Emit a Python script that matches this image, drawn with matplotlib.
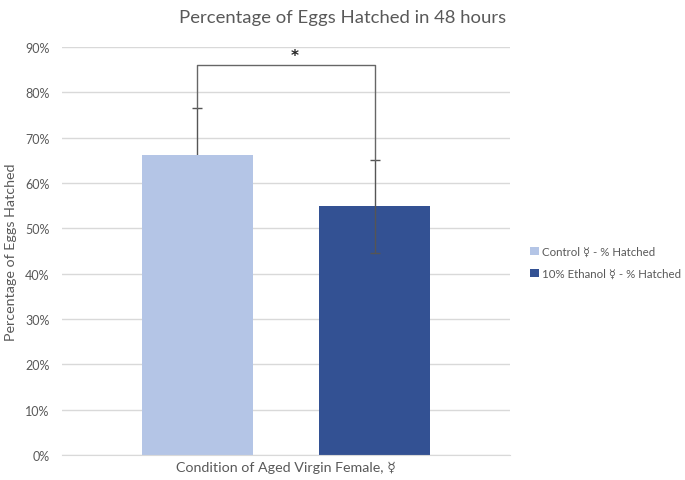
import matplotlib
matplotlib.use("Agg")
import matplotlib.pyplot as plt
from matplotlib.ticker import FuncFormatter, MultipleLocator

series_names = ["Control ☿ - % Hatched", "10% Ethanol ☿ - % Hatched"]
values = [0.662, 0.549]
errors = [0.103, 0.1025]
colors = ["#B4C5E6", "#335193"]
bracket_y = 0.861
title = "Percentage of Eggs Hatched in 48 hours"
xlabel = "Condition of Aged Virgin Female, ☿"
ylabel = "Percentage of Eggs Hatched"

plt.rcParams['font.family'] = ['Lato', 'DejaVu Sans']
txt = "#595959"

fig = plt.figure(figsize=(6.85, 4.81), dpi=100)
ax = fig.add_axes([62/685, 25/481, 448/685, 408/481])

xs = [-0.5, 0.5]
w = 0.624
for i, (x, v, e, c, n) in enumerate(zip(xs, values, errors, colors, series_names)):
    ax.bar(x, v, width=w, color=c, label=n, zorder=2)
    ax.errorbar(x, v, yerr=e, fmt='none', ecolor="#555555", elinewidth=1,
                capsize=3.5, capthick=1, zorder=1 if i == 0 else 3)

# significance bracket
ax.plot([xs[0], xs[0], xs[1], xs[1]],
        [values[0] + errors[0], bracket_y, bracket_y, values[1] + errors[1]],
        color="#666666", lw=1, zorder=3)
ax.text(0.05, bracket_y + 0.004, "*", ha='center', va='bottom', fontsize=11,
        fontweight='bold', color="#222222", family='DejaVu Sans')

ax.set_ylim(0, 0.9)
ax.set_xlim(-1.26, 1.26)
ax.yaxis.set_major_locator(MultipleLocator(0.1))
ax.yaxis.set_major_formatter(FuncFormatter(lambda v, p: f"{v*100:.0f}%"))
ax.grid(axis='y', color="#D9D9D9", lw=1, zorder=0)
ax.set_axisbelow(True)
for s in ['top', 'right', 'left']:
    ax.spines[s].set_visible(False)
ax.spines['bottom'].set_color("#D9D9D9")
ax.tick_params(axis='y', length=0, pad=9, labelsize=9, labelcolor=txt)
ax.set_xticks([])
ax.set_xlabel(xlabel, fontsize=10.3, color=txt, labelpad=4)
ax.set_ylabel(ylabel, fontsize=10.3, color=txt, labelpad=6)
fig.text(0.5, 1 - 18/481, title, ha='center', va='center', fontsize=13.3, color=txt)

leg = ax.legend(loc='center left', bbox_to_anchor=(1.045, 0.472), frameon=False,
                fontsize=8.3, handlelength=0.75, handleheight=0.75, handletextpad=0.3,
                labelspacing=0.95, labelcolor=txt, borderaxespad=0, borderpad=0)

fig.savefig("out.png", dpi=100)
